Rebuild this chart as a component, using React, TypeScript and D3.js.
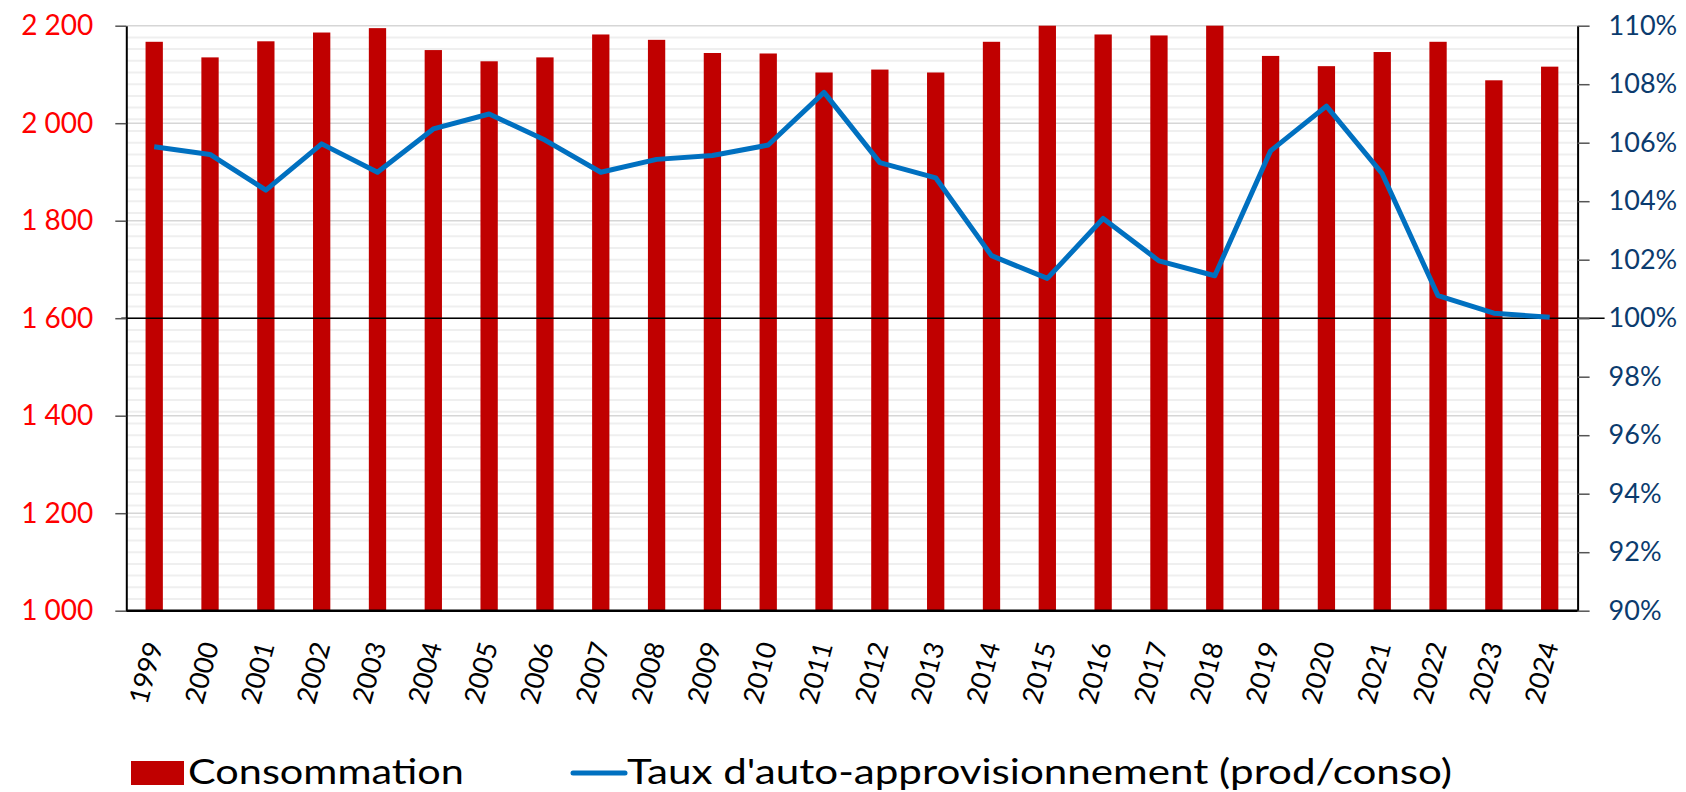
import React, { useEffect, useRef } from 'react';
import * as d3 from 'd3';

const years = ['1999', '2000', '2001', '2002', '2003', '2004', '2005', '2006', '2007', '2008', '2009', '2010', '2011',
  '2012', '2013', '2014', '2015', '2016', '2017', '2018', '2019', '2020', '2021', '2022', '2023', '2024'];
const consommation = [2167, 2135, 2168, 2186, 2195, 2150, 2127, 2135, 2182, 2171, 2144, 2143, 2104,
  2110, 2104, 2167, 2200, 2182, 2180, 2200, 2138, 2117, 2146, 2167, 2088, 2116];
const taux = [105.86, 105.6, 104.38, 105.96, 104.99, 106.47, 106.98, 106.09, 104.99, 105.43, 105.56, 105.92, 107.72,
  105.32, 104.8, 102.14, 101.36, 103.41, 101.96, 101.45, 105.72, 107.25, 104.94, 100.77, 100.17, 100.03];
const leftTicks = [1000, 1200, 1400, 1600, 1800, 2000, 2200];
const rightTicks = [90, 92, 94, 96, 98, 100, 102, 104, 106, 108, 110];
const legendLabels = ['Consommation', "Taux d'auto-approvisionnement (prod/conso)"];

const W = 1686;
const H = 792;
const margin = { top: 25.7, right: W - 1577.6, bottom: H - 610.7, left: 126.3 };

const fmtLeft = d3.formatLocale({ decimal: ',', thousands: '\u00a0', grouping: [3], currency: ['', ' €'] }).format(',d');

function App() {
  const ref = useRef<SVGSVGElement>(null);

  useEffect(() => {
    const svg = d3.select(ref.current);
    svg.selectAll('*').remove();

    const x = d3.scaleBand()
      .domain(years)
      .range([margin.left, W - margin.right])
      .paddingInner(0.69)
      .paddingOuter(0.345);
    const yL = d3.scaleLinear().domain([1000, 2200]).range([H - margin.bottom, margin.top]);
    const yR = d3.scaleLinear().domain([90, 110]).range([H - margin.bottom, margin.top]);

    // minor grid (every 0.4 % on the right scale)
    svg.append('g')
      .selectAll('line')
      .data(d3.range(90.4, 110, 0.4))
      .join('line')
      .attr('x1', margin.left).attr('x2', W - margin.right)
      .attr('y1', d => yR(d)).attr('y2', d => yR(d))
      .attr('stroke', '#efefef')
      .attr('stroke-width', 2);

    // major grid
    svg.append('g')
      .selectAll('line')
      .data(leftTicks)
      .join('line')
      .attr('x1', margin.left).attr('x2', W - margin.right)
      .attr('y1', d => yL(d)).attr('y2', d => yL(d))
      .attr('stroke', '#d6d6d6')
      .attr('stroke-width', 1.5);

    // bars
    svg.append('g')
      .selectAll('rect')
      .data(consommation)
      .join('rect')
      .attr('x', (d, i) => x(years[i])!)
      .attr('width', x.bandwidth())
      .attr('y', d => yL(d))
      .attr('height', d => yL(1000) - yL(d))
      .attr('fill', '#c00000');

    // 100 % reference line
    svg.append('line')
      .attr('x1', margin.left - 5).attr('x2', W - margin.right + 27)
      .attr('y1', yR(100)).attr('y2', yR(100))
      .attr('stroke', '#000')
      .attr('stroke-width', 1.5);

    // left axis
    const gl = svg.append('g')
      .attr('transform', `translate(${margin.left},0)`)
      .call(d3.axisLeft(yL).tickValues(leftTicks).tickSize(11).tickSizeOuter(0).tickPadding(22).tickFormat(d => fmtLeft(+d)));
    gl.select('.domain').attr('stroke', '#000').attr('stroke-width', 2);
    gl.selectAll('.tick line').attr('stroke', '#555').attr('stroke-width', 1.5);
    gl.selectAll('.tick text').attr('fill', '#ff0000').attr('font-size', 28).attr('font-family', 'Lato, sans-serif');

    // right axis
    const gr = svg.append('g')
      .attr('transform', `translate(${W - margin.right},0)`)
      .call(d3.axisRight(yR).tickValues(rightTicks).tickSize(12).tickSizeOuter(0).tickPadding(19).tickFormat(d => `${d}%`));
    gr.select('.domain').attr('stroke', '#000').attr('stroke-width', 2);
    gr.selectAll('.tick line').attr('stroke', '#555').attr('stroke-width', 1.5);
    gr.selectAll('.tick text').attr('fill', '#0b3b6e').attr('font-size', 27).attr('font-family', 'Lato, sans-serif');

    // bottom axis line
    svg.append('line')
      .attr('x1', margin.left).attr('x2', W - margin.right)
      .attr('y1', yL(1000)).attr('y2', yL(1000))
      .attr('stroke', '#000')
      .attr('stroke-width', 2.5);

    // year labels
    svg.append('g')
      .selectAll('text')
      .data(years)
      .join('text')
      .attr('transform', d => `translate(${x(d)! + x.bandwidth() / 2 + 9},645) rotate(-75)`)
      .attr('text-anchor', 'end')
      .attr('font-size', 27)
      .attr('font-family', 'Lato, sans-serif')
      .attr('fill', '#000')
      .text(d => d);

    // line
    svg.append('path')
      .datum(taux)
      .attr('fill', 'none')
      .attr('stroke', '#0070c0')
      .attr('stroke-width', 5)
      .attr('stroke-linejoin', 'round')
      .attr('d', d3.line<number>()
        .x((d, i) => x(years[i])! + x.bandwidth() / 2)
        .y(d => yR(d)));

    // legend
    const lg = svg.append('g').attr('font-family', 'Lato, sans-serif').attr('font-size', 35);
    lg.append('rect').attr('x', 131).attr('y', 761).attr('width', 53).attr('height', 24).attr('fill', '#c00000');
    lg.append('text').attr('x', 188).attr('y', 784).attr('textLength', 276).attr('lengthAdjust', 'spacingAndGlyphs').text(legendLabels[0]);
    lg.append('line').attr('x1', 573).attr('x2', 625).attr('y1', 773).attr('y2', 773)
      .attr('stroke', '#0070c0').attr('stroke-width', 5).attr('stroke-linecap', 'round');
    lg.append('text').attr('x', 627).attr('y', 784).attr('textLength', 825).attr('lengthAdjust', 'spacingAndGlyphs').text(legendLabels[1]);
  }, []);

  return (
    <svg ref={ref} width={W} height={H} style={{ position: 'absolute', left: 0, top: 0, background: '#fff' }} />
  );
}

export default App;
